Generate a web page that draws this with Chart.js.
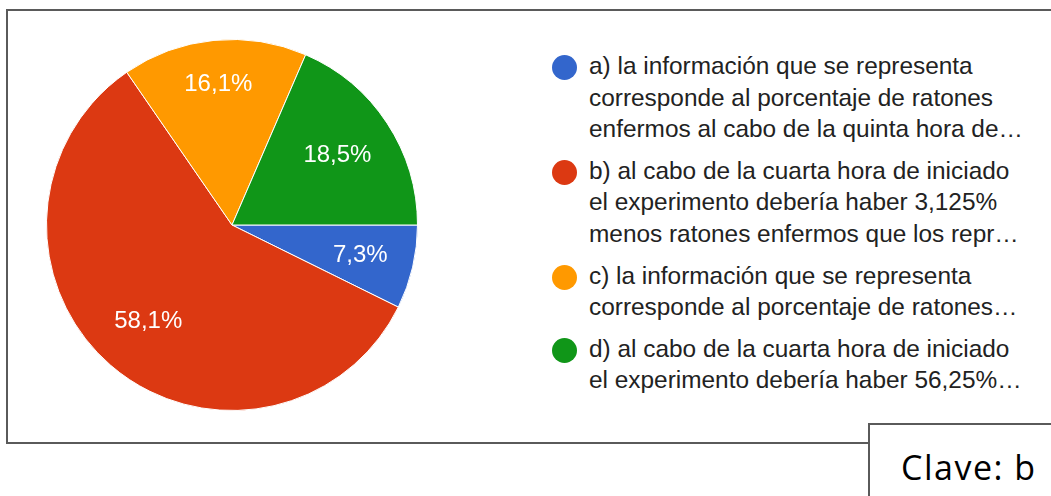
<!DOCTYPE html>
<html>
<head>
<meta charset="utf-8">
<script src="https://cdn.jsdelivr.net/npm/chart.js@4"></script>
<style>
  html, body { margin: 0; padding: 0; background: #fff; width: 1051px; height: 496px; overflow: hidden; position: relative; }
  #frame { position: absolute; left: 6px; top: 9px; width: 1100px; height: 431px; border: 2px solid #5a5a5a; }
  #pieWrap { position: absolute; left: 46px; top: 39px; width: 372px; height: 372px; }
  #legend { position: absolute; left: 552px; top: 50px; font: 24.4px "Liberation Sans", Arial, sans-serif; color: #222; }
  .item { position: relative; padding-left: 37px; margin-bottom: 10px; line-height: 31.6px; white-space: nowrap; }
  .dot { position: absolute; left: 0; top: 5px; width: 25px; height: 25px; border-radius: 50%; }
  #clave { position: absolute; left: 868px; top: 423px; width: 300px; height: 120px; border: 2px solid #5a5a5a; background: #fff; }
  #clave span { position: absolute; left: 31px; top: 19px; font: 34px "Open Sans", sans-serif; letter-spacing: 1.5px; color: #000; }
</style>
</head>
<body>
<div id="frame"></div>
<div id="pieWrap"><canvas id="pie" width="372" height="372"></canvas></div>
<div id="legend"></div>
<div id="clave"><span>Clave: b</span></div>
<script>
// answer options, each one as the wrapped lines shown in the legend
const options = [
  ['a) la información que se representa', 'corresponde al porcentaje de ratones', 'enfermos al cabo de la quinta hora de…'],
  ['b) al cabo de la cuarta hora de iniciado', 'el experimento debería haber 3,125%', 'menos ratones enfermos que los repr…'],
  ['c) la información que se representa', 'corresponde al porcentaje de ratones…'],
  ['d) al cabo de la cuarta hora de iniciado', 'el experimento debería haber 56,25%…']
];
const percents = [7.3, 58.1, 16.1, 18.5];
const colors = ['#3366cc', '#dc3912', '#ff9900', '#109618'];

// legend built from the arrays above
const legend = document.getElementById('legend');
options.forEach(function (lines, i) {
  const item = document.createElement('div');
  item.className = 'item';
  item.innerHTML = '<span class="dot" style="background:' + colors[i] + '"></span>' +
    lines.map(function (l) { return '<div>' + l + '</div>'; }).join('');
  legend.appendChild(item);
});

// percentage text inside each slice
const sliceLabels = {
  id: 'sliceLabels',
  afterDatasetsDraw(chart, args, opts) {
    const ctx = chart.ctx;
    const meta = chart.getDatasetMeta(0);
    ctx.save();
    ctx.font = opts.font;
    ctx.fillStyle = opts.color;
    ctx.textAlign = 'center';
    ctx.textBaseline = 'middle';
    meta.data.forEach(function (arc, i) {
      const p = arc.getProps(['x', 'y', 'startAngle', 'endAngle', 'outerRadius'], true);
      const mid = (p.startAngle + p.endAngle) / 2;
      const r = p.outerRadius * opts.radius[i];
      const txt = percents[i].toFixed(1).replace('.', ',') + '%';
      ctx.fillText(txt, p.x + Math.cos(mid) * r, p.y + Math.sin(mid) * r);
    });
    ctx.restore();
  }
};

new Chart(document.getElementById('pie').getContext('2d'), {
  type: 'pie',
  data: {
    labels: options.map(function (l) { return l.join(' '); }),
    datasets: [{
      data: percents,
      backgroundColor: colors,
      borderColor: '#ffffff',
      borderWidth: 1
    }]
  },
  options: {
    responsive: false,
    animation: false,
    rotation: 90,
    layout: { padding: 0 },
    plugins: {
      legend: { display: false },
      tooltip: { enabled: false },
      sliceLabels: {
        font: '24px "Liberation Sans", Arial, sans-serif',
        color: '#ffffff',
        radius: [0.71, 0.69, 0.76, 0.68]
      }
    }
  },
  plugins: [sliceLabels]
});
</script>
</body>
</html>
